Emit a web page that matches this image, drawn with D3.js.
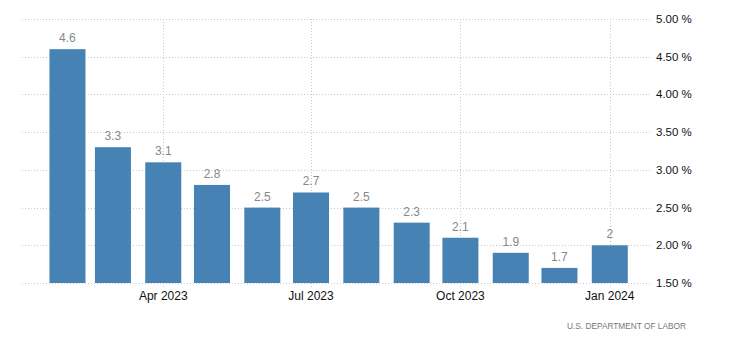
<!DOCTYPE html>
<html>
<head>
<meta charset="utf-8">
<script src="https://cdn.jsdelivr.net/npm/d3@7"></script>
<style>
  body { margin: 0; background: #fff; }
  svg text { font-family: "Liberation Sans", Arial, sans-serif; }
</style>
</head>
<body>
<svg id="chart"></svg>
<script>
const months = ["2023-02", "2023-03", "2023-04", "2023-05", "2023-06", "2023-07",
                "2023-08", "2023-09", "2023-10", "2023-11", "2023-12", "2024-01"];
const values = [4.6, 3.3, 3.1, 2.8, 2.5, 2.7, 2.5, 2.3, 2.1, 1.9, 1.7, 2];
const yTicks = [1.5, 2, 2.5, 3, 3.5, 4, 4.5, 5];
const xTicks = ["2023-04", "2023-07", "2023-10", "2024-01"];
const source = "U.S. DEPARTMENT OF LABOR";

const svgWidth = 730, svgHeight = 351;
const margin = { top: 19, right: 78, bottom: 68, left: 22 };

const parse = d3.utcParse("%Y-%m");
const data = months.map((m, i) => ({ date: parse(m), value: values[i] }));

const svg = d3.select("#chart")
    .attr("width", svgWidth)
    .attr("height", svgHeight);

const x = d3.scaleUtc()
    .domain([new Date(Date.UTC(2023, 0, 4)), new Date(Date.UTC(2024, 0, 27))])
    .range([margin.left, svgWidth - margin.right]);

const y = d3.scaleLinear()
    .domain([1.5, 5])
    .range([svgHeight - margin.bottom, margin.top]);

const barWidth = 36;

// grid
svg.append("g")
    .selectAll("line")
    .data(yTicks)
    .join("line")
    .attr("x1", margin.left)
    .attr("x2", svgWidth - margin.right)
    .attr("y1", d => Math.round(y(d)) + 0.5)
    .attr("y2", d => Math.round(y(d)) + 0.5)
    .attr("stroke", "#c8c8c8")
    .attr("stroke-dasharray", "1,2");

svg.append("g")
    .selectAll("line")
    .data(xTicks.map(parse))
    .join("line")
    .attr("x1", d => Math.round(x(d)) + 0.5)
    .attr("x2", d => Math.round(x(d)) + 0.5)
    .attr("y1", margin.top)
    .attr("y2", svgHeight - margin.bottom + 4)
    .attr("stroke", "#c8c8c8")
    .attr("stroke-dasharray", "1,2");

// bars
svg.append("g")
    .selectAll("rect")
    .data(data)
    .join("rect")
    .attr("x", d => x(d.date) - barWidth / 2)
    .attr("width", barWidth)
    .attr("y", d => y(d.value))
    .attr("height", d => y(1.5) - y(d.value))
    .attr("fill", "#4682b4");

// value labels
svg.append("g")
    .selectAll("text")
    .data(data)
    .join("text")
    .attr("x", d => x(d.date))
    .attr("y", d => y(d.value) - 7)
    .attr("text-anchor", "middle")
    .attr("font-size", 12)
    .attr("fill", "#888")
    .text(d => d3.format("")(d.value));

// y axis labels
svg.append("g")
    .selectAll("text")
    .data(yTicks)
    .join("text")
    .attr("x", svgWidth - margin.right + 4)
    .attr("y", d => y(d))
    .attr("dy", "0.35em")
    .attr("font-size", 11.5)
    .attr("fill", "#111")
    .text(d => d3.format(".2f")(d) + " %");

// x axis labels
const fmt = d3.utcFormat("%b %Y");
svg.append("g")
    .selectAll("text")
    .data(xTicks.map(parse))
    .join("text")
    .attr("x", d => x(d))
    .attr("y", svgHeight - margin.bottom + 17)
    .attr("text-anchor", "middle")
    .attr("font-size", 12)
    .attr("fill", "#111")
    .text(d => fmt(d));

// source
svg.append("text")
    .attr("x", 567)
    .attr("y", 329)
    .attr("font-size", 9.5)
    .attr("textLength", 119)
    .attr("lengthAdjust", "spacingAndGlyphs")
    .attr("fill", "#777")
    .text(source);
</script>
</body>
</html>
